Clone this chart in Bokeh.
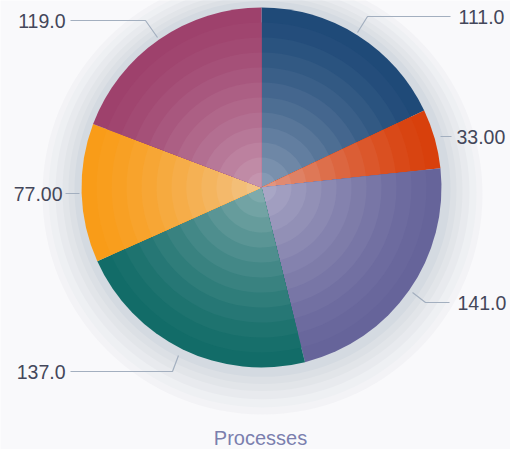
import math
from bokeh.plotting import figure
from bokeh.models import Range1d, Label
from bokeh.embed import file_html
from bokeh.resources import INLINE

# data
values = [111, 33, 141, 137, 77, 119]
labels = ["111.0", "33.00", "141.0", "137.0", "77.00", "119.0"]
colors = ["#1f4a78", "#d8400c", "#66649a", "#126c68", "#f99c18", "#9e416c"]
title_text = "Processes"

W, H = 510, 449
p = figure(width=W, height=H, output_backend="svg", toolbar_location=None,
           x_range=Range1d(0, W), y_range=Range1d(-H, 0), min_border=0)
p.axis.visible = False
p.grid.visible = False
p.outline_line_color = None
p.background_fill_color = "#f9f9fb"
p.border_fill_color = "#f9f9fb"

cx, cy, R = 261, -187, 180

# halo
halo = [(220, "#f3f3f6"), (214, "#eef0f3"), (207, "#e8eaee"), (200, "#e2e5e9"),
        (194, "#dce0e5"), (188, "#d4dae1")]
for r, c in halo:
    p.circle(x=[cx + 1], y=[cy - 7 * (r - 180) / 40], radius=r, fill_color=c, line_color=None)

def blend(hexc, t, target=(235, 232, 240)):
    h = hexc.lstrip("#")
    rgb = [int(h[i:i + 2], 16) for i in (0, 2, 4)]
    out = [round(a + (b - a) * t) for a, b in zip(rgb, target)]
    return "#%02x%02x%02x" % tuple(out)

total = sum(values)
cum = 0
nb = 12
for v, c in zip(values, colors):
    a0 = math.pi / 2 - cum / total * 2 * math.pi
    cum += v
    a1 = math.pi / 2 - cum / total * 2 * math.pi
    for k in range(nb):
        r_out = R * (nb - k) / nb
        t = 0.5 * (k / (nb - 1)) ** 1.3
        p.wedge(x=[cx], y=[cy], radius=r_out, start_angle=a0, end_angle=a1,
                direction="clock", fill_color=blend(c, t), line_color=None)

# leader lines and labels
line_c = "#a3afbf"
leaders = {
    "111.0": ([357, 367, 450], [32, 16, 16], 458, 16, "left"),
    "33.00": ([440, 451], [136, 136], 456, 136, "left"),
    "141.0": ([412, 425, 449], [292, 302, 302], 457, 302, "left"),
    "137.0": ([178, 172, 70], [355, 371, 371], 65, 371, "right"),
    "77.00": ([79, 65], [193, 193], 62, 193, "right"),
    "119.0": ([157, 145, 70], [37, 20, 20], 65, 20, "right"),
}
for lab in labels:
    xs, ys, tx, ty, al = leaders[lab]
    p.line(x=xs, y=[-y for y in ys], line_color=line_c, line_width=1.2)
    p.add_layout(Label(x=tx, y=-ty, text=lab, text_align=al, text_baseline="middle",
                       text_font="Liberation Sans", text_font_size="19.5px",
                       text_color="#44475a"))

p.add_layout(Label(x=260, y=-437, text=title_text, text_align="center",
                   text_baseline="middle", text_font="Liberation Sans",
                   text_font_size="20px", text_color="#7b7fae"))

open("out.html", "w").write(file_html(p, INLINE))
